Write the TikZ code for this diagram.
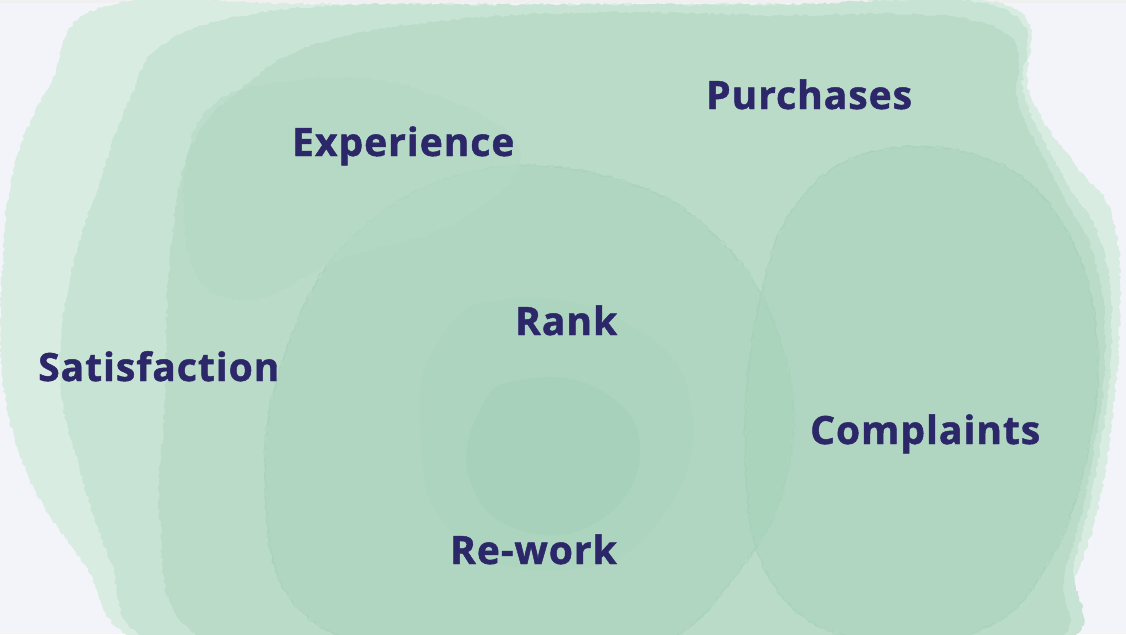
\documentclass[tikz,border=0pt]{standalone}
\usepackage{fontspec}
\setmainfont{Open Sans}[BoldFeatures={FakeBold=1.2, LetterSpace=2.5}]
\usetikzlibrary{decorations.pathmorphing}
\definecolor{bgc}{HTML}{F3F4F9}
\definecolor{ink}{HTML}{2C2769}
\definecolor{g0}{HTML}{D8ECE1}
\definecolor{g1}{HTML}{C6E3D3}
\definecolor{g2}{HTML}{B4D9C4}
\definecolor{g3}{HTML}{A6D2BA}
\definecolor{g4}{HTML}{9BCBB0}
\tikzset{
  word/.style={anchor=base west, inner sep=0pt, text=ink, font=\fontsize{39}{39}\selectfont\bfseries},
  wash/.style={decorate, decoration={random steps, segment length=3pt, amplitude=1.4pt}},
  rim/.style={draw=g4, line width=1.2pt, opacity=0.35},
}
\begin{document}
\begin{tikzpicture}[x=1pt,y=-1pt]
\useasboundingbox (0,0) rectangle (1126,634);
\fill[bgc] (0,0) rectangle (1126,634);
\fill[black!6] (0,0) rectangle (1126,3);
% pale outer wash, faded at the far left
\fill[g0, wash] plot[smooth cycle, tension=0.7] coordinates {
 (105,6) (320,4) (560,4) (800,4) (1008,6) (1030,95) (1075,165) (1112,215) (1120,310)
 (1112,420) (1095,520) (1065,600) (1035,650) (700,660) (330,660) (140,640) (85,565)
 (30,480) (3,380) (3,260) (15,165) (50,85)};
% main body
\fill[g1, wash] plot[smooth cycle, tension=0.7] coordinates {
 (170,40) (300,8) (520,5) (760,5) (1000,8) (1025,100) (1065,180) (1100,240) (1112,330)
 (1100,450) (1075,560) (1045,650) (700,660) (330,660) (150,640) (110,560)
 (80,470) (60,380) (70,280) (100,180) (130,100)};
\fill[g2, wash, opacity=0.7] plot[smooth cycle, tension=0.7] coordinates {
 (330,40) (520,15) (760,15) (990,25) (1020,110) (1060,190) (1095,260) (1105,360)
 (1090,470) (1065,570) (1030,650) (700,660) (330,660) (190,630) (160,520)
 (165,400) (170,260) (190,150) (240,90)};
% soft darker rings
\fill[g3, wash, opacity=0.45] plot[smooth cycle, tension=0.7] coordinates {
 (480,170) (620,180) (720,240) (780,340) (790,460) (740,570) (640,650) (440,655)
 (300,610) (265,480) (290,340) (360,230)};
\draw[rim, wash] plot[smooth cycle, tension=0.7] coordinates {
 (480,170) (620,180) (720,240) (780,340) (790,460) (740,570) (640,650) (440,655)
 (300,610) (265,480) (290,340) (360,230)};
\fill[g3, wash, opacity=0.45] plot[smooth cycle, tension=0.7] coordinates {
 (880,150) (990,160) (1060,220) (1095,320) (1090,440) (1050,560) (980,630) (860,640)
 (770,580) (745,450) (760,300) (800,200)};
\draw[rim, wash] plot[smooth cycle, tension=0.7] coordinates {
 (880,150) (990,160) (1060,220) (1095,320) (1090,440) (1050,560) (980,630) (860,640)
 (770,580) (745,450) (760,300) (800,200)};
\fill[g2, wash, opacity=0.5] plot[smooth cycle, tension=0.7] coordinates {
 (200,120) (300,80) (420,90) (520,150) (460,220) (340,260) (250,300) (190,260)};
\fill[g3, opacity=0.35] plot[smooth cycle, tension=0.8] coordinates {
 (500,300) (620,320) (690,400) (660,520) (560,570) (450,530) (420,420) (440,340)};
\fill[g4, opacity=0.25] plot[smooth cycle, tension=0.8] coordinates {
 (520,380) (600,390) (640,450) (600,520) (520,530) (470,480) (480,410)};
\node[word] (purchases) at (706,109) {Purchases};
\node[word] (experience) at (292,156) {Experience};
\node[word] (rank) at (515,335) {Rank};
\node[word] (satisfaction) at (38,381) {Satisfaction};
\node[word] (complaints) at (810,444) {Complaints};
\node[word] (rework) at (450,564) {Re-work};
\end{tikzpicture}
\end{document}
